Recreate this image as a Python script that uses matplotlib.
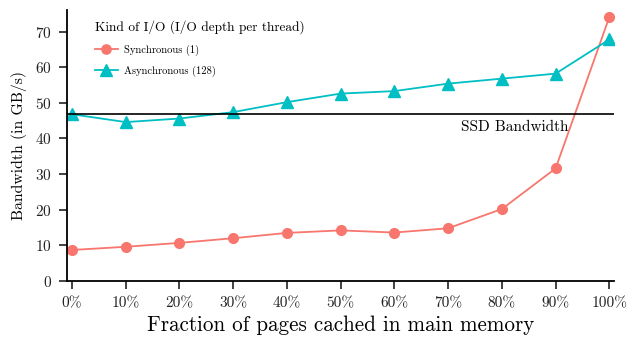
import numpy as np
import matplotlib
matplotlib.use("Agg")
import matplotlib.pyplot as plt

fraction = [0, 10, 20, 30, 40, 50, 60, 70, 80, 90, 100]
tick_labels = ["0%", "10%", "20%", "30%", "40%", "50%", "60%", "70%", "80%", "90%", "100%"]
sync_bw = [8.7, 9.6, 10.7, 12.0, 13.5, 14.2, 13.6, 14.8, 20.2, 31.6, 74.1]
async_bw = [46.8, 44.6, 45.6, 47.4, 50.2, 52.6, 53.3, 55.4, 56.8, 58.2, 67.8]
ssd_bw = 46.8

plt.rcParams['font.family'] = ['cmr10', 'DejaVu Serif']
plt.rcParams['axes.formatter.use_mathtext'] = True

fig, ax = plt.subplots(figsize=(6.28, 3.41), dpi=100)
fig.subplots_adjust(left=0.107, right=0.978, top=0.97, bottom=0.176)

ax.plot(fraction, sync_bw, color='#F8766D', marker='o', markersize=7, lw=1.3,
        label='Synchronous (1)')
ax.plot(fraction, async_bw, color='#00BFC4', marker='^', markersize=8.5, lw=1.3,
        label='Asynchronous (128)')
ax.axhline(ssd_bw, color='black', lw=1.2)
ax.text(82.4, ssd_bw - 1.6, 'SSD Bandwidth', fontsize=11, ha='center', va='top')

ax.set_xlim(-0.9, 100.9)
ax.set_ylim(0, 76)
ax.set_xticks(fraction)
ax.set_xticklabels(tick_labels)
ax.set_yticks(np.arange(0, 80, 10))
ax.tick_params(labelsize=11, width=1.2, length=6, pad=5, colors='#222222')
for s in ['top', 'right']:
    ax.spines[s].set_visible(False)
for s in ['left', 'bottom']:
    ax.spines[s].set_linewidth(1.3)

ax.set_xlabel('Fraction of pages cached in main memory', fontsize=15.2)
ax.set_ylabel('Bandwidth (in GB/s)', fontsize=11.3, labelpad=6)

leg = ax.legend(title='Kind of I/O (I/O depth per thread)', frameon=False,
                fontsize=7.6, title_fontsize=9.6, loc='upper left',
                bbox_to_anchor=(0.033, 1.0), markerscale=0.95,
                labelspacing=0.95, handlelength=2.2, handletextpad=0.6)
leg._legend_box.align = 'left'
leg._legend_box.sep = 8

fig.savefig('out.png', dpi=100)
